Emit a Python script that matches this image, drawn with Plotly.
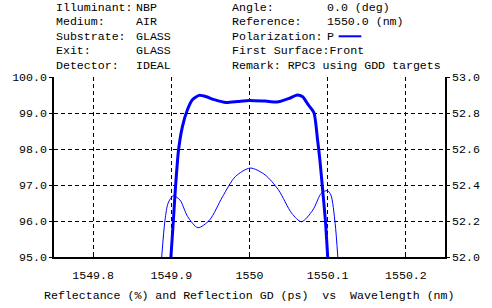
import plotly.graph_objects as go

# ---- data ----
refl_wl = [1549.8995, 1549.9026, 1549.9051, 1549.9093, 1549.9143, 1549.9206, 1549.9270,
           1549.9354, 1549.9450, 1549.9550, 1549.9700, 1549.9850, 1550.0000, 1550.0200,
           1550.0370, 1550.0500, 1550.0610, 1550.0680, 1550.0750, 1550.0825, 1550.0870,
           1550.0900, 1550.0935, 1550.0970, 1550.1000]
refl_val = [95.0, 96.0, 96.86, 97.98, 98.63, 99.09, 99.37,
            99.49, 99.45, 99.37, 99.29, 99.32, 99.35, 99.33,
            99.31, 99.40, 99.50, 99.45, 99.23, 99.00, 98.26,
            97.70, 96.87, 96.03, 95.0]

gd_wl = [1549.8877, 1549.8920, 1549.8960, 1549.9024, 1549.9110, 1549.9210, 1549.9340,
         1549.9490, 1549.9655, 1549.9820, 1550.0010, 1550.0200, 1550.0370, 1550.0540,
         1550.0665, 1550.0810, 1550.0918, 1550.0994, 1550.1040, 1550.1095, 1550.1129]
gd_val = [52.0, 52.206, 52.30, 52.34, 52.317, 52.224, 52.163,
          52.206, 52.335, 52.447, 52.494, 52.456, 52.373, 52.243,
          52.196, 52.261, 52.354, 52.369, 52.345, 52.187, 52.0]

x_ticks = [1549.8, 1549.9, 1550.0, 1550.1, 1550.2]
x_ticktext = ["1549.8", "1549.9", "1550", "1550.1", "1550.2"]
y1_ticks = [95, 96, 97, 98, 99, 100]
y2_ticks = [52.0, 52.2, 52.4, 52.6, 52.8, 53.0]

header_col1 = ["Illuminant:", "Medium:", "Substrate:", "Exit:", "Detector:"]
header_col2 = ["NBP", "AIR", "GLASS", "GLASS", "IDEAL"]
header_col3 = ["Angle:", "Reference:", "Polarization:", "First Surface:Front", "Remark: RPC3 using GDD targets"]
header_col4 = ["0.0 (deg)", "1550.0 (nm)", "P", "", ""]

x_title = "Reflectance (%) and Reflection GD (ps)  vs  Wavelength (nm)"

# ---- layout geometry ----
W, H = 492, 308
L, R, T, B = 49, 46, 77, 51
PW, PH = W - L - R, H - T - B
FONT = "Liberation Mono"
FS = 11.6
BLUE = "#0000FF"


def px_x(x):
    return (x - L) / PW


def px_y(y):
    return (H - B - y) / PH


fig = go.Figure()
fig.add_trace(go.Scatter(x=refl_wl, y=refl_val, mode="lines",
                         line=dict(color=BLUE, width=3, shape="spline", smoothing=0.6),
                         yaxis="y", showlegend=False, hoverinfo="skip"))
fig.add_trace(go.Scatter(x=gd_wl, y=gd_val, mode="lines",
                         line=dict(color=BLUE, width=1, shape="spline", smoothing=0.8),
                         yaxis="y2", showlegend=False, hoverinfo="skip"))

annotations = []
row_y = [7.5, 22.0, 36.4, 50.8, 65.2]
cols = [(49.5, header_col1), (130.5, header_col2), (227.5, header_col3), (324.5, header_col4)]
for cx, texts in cols:
    for ry, t in zip(row_y, texts):
        if not t:
            continue
        annotations.append(dict(x=px_x(cx), y=px_y(ry), xref="paper", yref="paper",
                                text=t.replace(" ", "\u00a0"), showarrow=False,
                                xanchor="left", yanchor="middle",
                                font=dict(family=FONT, size=FS, color="black")))
annotations.append(dict(x=px_x(247.5), y=px_y(295), xref="paper", yref="paper",
                        text=x_title.replace(" ", "\u00a0"), showarrow=False,
                        xanchor="center", yanchor="middle",
                        font=dict(family=FONT, size=FS, color="black")))

shapes = [dict(type="line", xref="paper", yref="paper",
               x0=px_x(338), x1=px_x(361), y0=px_y(36.3), y1=px_y(36.3),
               line=dict(color=BLUE, width=2))]

fig.update_layout(
    width=W, height=H,
    margin=dict(l=L, r=R, t=T, b=B, pad=0),
    paper_bgcolor="white", plot_bgcolor="white",
    font=dict(family=FONT, size=FS, color="black"),
    annotations=annotations, shapes=shapes,
    xaxis=dict(range=[1549.75, 1550.25], tickmode="array", tickvals=x_ticks, ticktext=x_ticktext,
               showgrid=True, gridcolor="black", gridwidth=1, griddash="4px,3px",
               showline=True, linecolor="black", linewidth=1.5, mirror=False,
               ticks="inside", ticklen=4, tickcolor="black", zeroline=False,
               ticklabelstandoff=6, fixedrange=True),
    yaxis=dict(range=[95, 100], tickmode="array", tickvals=y1_ticks,
               tickformat=".1f", showgrid=True, gridcolor="black", gridwidth=1, griddash="4px,3px",
               showline=True, linecolor="black", linewidth=1.5,
               ticks="outside", ticklen=3, tickcolor="black", zeroline=False, fixedrange=True),
    yaxis2=dict(range=[52, 53], tickmode="array", tickvals=y2_ticks, tickformat=".1f",
                overlaying="y", side="right", showgrid=False,
                showline=True, linecolor="black", linewidth=1.5,
                ticks="outside", ticklen=3, tickcolor="black", zeroline=False, fixedrange=True),
)

fig.write_html("out.html", config={"displayModeBar": False})
